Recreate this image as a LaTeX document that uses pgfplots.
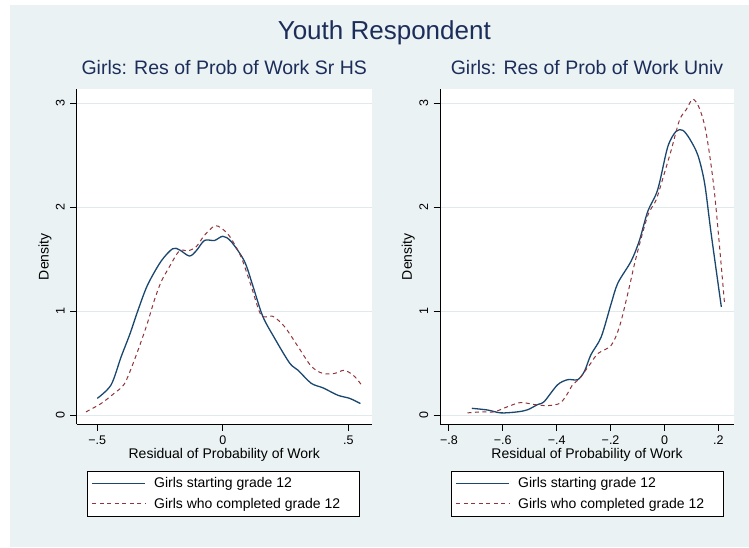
\documentclass[border=0pt]{standalone}
\usepackage{pgfplots}
\pgfplotsset{compat=1.18}
\usepackage{fontspec}
\setmainfont{Liberation Sans}
\definecolor{bgc}{HTML}{EAF2F3}
\definecolor{gridc}{HTML}{E0EAEC}
\definecolor{titlec}{HTML}{1C2D5A}
\definecolor{navyc}{HTML}{1A476F}
\definecolor{maroonc}{HTML}{90353B}
\newcommand{\lt}[1]{\makebox[199pt][l]{#1}}
\pgfplotsset{
 mystyle/.style={
  scale only axis,
  axis x line*=bottom, axis y line*=left,
  axis line style={black, line width=0.8pt},
  axis background/.style={fill=white},
  ymin=-0.087, ymax=3.135,
  ytick={0,1,2,3}, yticklabels={0,1,2,3},
  ymajorgrids, grid style={gridc, line width=0.8pt},
  tick align=outside, major tick length=6.5pt,
  tick style={black, line width=0.8pt},
  ticklabel style={font=\fontsize{12.5}{14}\selectfont},
  /pgf/number format/assume math mode=true,
  yticklabel style={rotate=90, anchor=base, yshift=5.5pt},
  xticklabel style={anchor=base},
  xticklabel shift=14pt,
  label style={font=\fontsize{14}{16}\selectfont},
  ylabel={Density}, xlabel={Residual of Probability of Work},
  xlabel style={at={(axis description cs:0.5,-0.1025)}, anchor=base},
  title style={font=\fontsize{19.5}{22}\selectfont, text=titlec, at={(0.5,1)}, anchor=base, yshift=8.6pt},
  legend image code/.code={\draw[##1] (0pt,0pt) -- (52.7pt,0pt);},
  legend cell align=left,
  legend style={anchor=north west, draw=black, line width=0.7pt, fill=white,
    inner xsep=4.6pt, inner ysep=4.5pt, row sep=4.7pt, column sep=6.5pt,
    font=\fontsize{14}{16}\selectfont, nodes={inner sep=2pt}},
 },
 s1/.style={navyc, line width=1.3pt, smooth, tension=0.5},
 s2/.style={maroonc, line width=1.0pt, dash pattern=on 4pt off 3.5pt, smooth, tension=0.5},
}
\begin{document}
\begin{tikzpicture}
\path[use as bounding box] (0pt,0pt) rectangle (749pt,-547pt);
\fill[bgc] (10pt,-5pt) rectangle (749pt,-547pt);
\node[anchor=base, text=titlec, font=\fontsize{26}{30}\selectfont] at (384.3pt,-39.3pt) {Youth Respondent};
\begin{axis}[mystyle, at={(76.7pt,-424pt)}, anchor=south west, width=295pt, height=334.7pt,
  xmin=-0.582, xmax=0.593, xtick={-0.5,0,0.5}, xticklabels={−.5,0,.5},
  ylabel style={at={(axis description cs:-0.1075,0.5)}, anchor=center},
  title={Girls: Res of Prob of Work Sr HS},
  legend style={at={(0.0339,-0.1395)}}]
\addplot[s1] coordinates {(-0.50,0.16) (-0.445,0.29) (-0.405,0.56) (-0.37,0.78) (-0.339,1.0) (-0.30,1.25) (-0.246,1.48) (-0.2,1.60) (-0.173,1.59) (-0.133,1.53) (-0.106,1.58) (-0.073,1.68) (-0.033,1.68) (0,1.72) (0.033,1.67) (0.086,1.48) (0.12,1.24) (0.159,0.95) (0.206,0.74) (0.266,0.50) (0.30,0.43) (0.352,0.305) (0.40,0.26) (0.458,0.19) (0.505,0.16) (0.548,0.11)};
\addlegendentry{\lt{Girls starting grade 12}}
\addplot[s2] coordinates {(-0.545,0.03) (-0.485,0.11) (-0.432,0.21) (-0.392,0.30) (-0.352,0.53) (-0.305,0.85) (-0.272,1.11) (-0.246,1.28) (-0.212,1.43) (-0.173,1.58) (-0.139,1.58) (-0.106,1.62) (-0.073,1.73) (-0.033,1.82) (-0.007,1.80) (0.027,1.72) (0.073,1.52) (0.113,1.24) (0.153,0.96) (0.199,0.95) (0.246,0.85) (0.299,0.66) (0.352,0.47) (0.398,0.40) (0.445,0.40) (0.485,0.43) (0.525,0.37) (0.558,0.27)};
\addlegendentry{\lt{Girls who completed grade 12}}
\end{axis}
\begin{axis}[mystyle, at={(440pt,-424pt)}, anchor=south west, width=294pt, height=334.7pt,
  xmin=-0.833, xmax=0.258, xtick={-0.8,-0.6,-0.4,-0.2,0,0.2}, xticklabels={−.8,−.6,−.4,−.2,0,.2},
  ylabel style={at={(axis description cs:-0.1078,0.5)}, anchor=center},
  title={Girls: Res of Prob of Work Univ},
  legend style={at={(0.0364,-0.1395)}}]
\addplot[s1] coordinates {(-0.715,0.064) (-0.657,0.048) (-0.607,0.02) (-0.545,0.03) (-0.508,0.05) (-0.471,0.10) (-0.446,0.13) (-0.397,0.29) (-0.359,0.34) (-0.322,0.34) (-0.297,0.42) (-0.273,0.58) (-0.235,0.75) (-0.198,1.07) (-0.173,1.27) (-0.124,1.48) (-0.093,1.68) (-0.062,1.96) (-0.025,2.17) (0.012,2.58) (0.043,2.73) (0.068,2.74) (0.093,2.66) (0.124,2.50) (0.149,2.23) (0.173,1.75) (0.211,1.04)};
\addlegendentry{\lt{Girls starting grade 12}}
\addplot[s2] coordinates {(-0.731,0.02) (-0.68,0.03) (-0.632,0.03) (-0.582,0.08) (-0.533,0.12) (-0.483,0.10) (-0.434,0.09) (-0.39,0.11) (-0.366,0.18) (-0.341,0.29) (-0.316,0.35) (-0.273,0.50) (-0.248,0.59) (-0.198,0.67) (-0.167,0.85) (-0.136,1.17) (-0.105,1.52) (-0.062,1.92) (-0.031,2.07) (0,2.33) (0.025,2.55) (0.056,2.84) (0.081,2.94) (0.105,3.04) (0.13,2.95) (0.155,2.71) (0.186,2.13) (0.223,1.07)};
\addlegendentry{\lt{Girls who completed grade 12}}
\end{axis}
\end{tikzpicture}
\end{document}
